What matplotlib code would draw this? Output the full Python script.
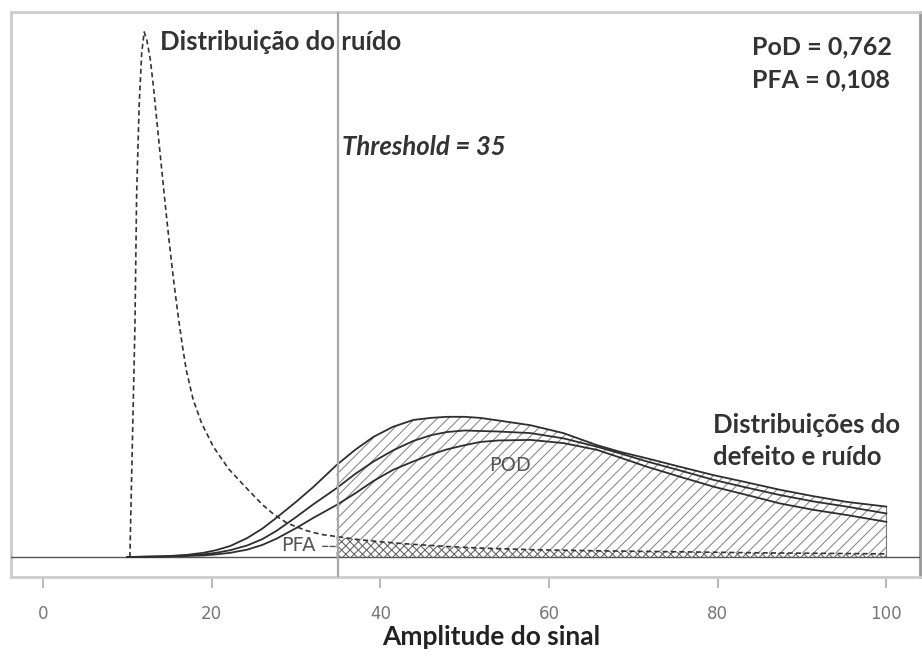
import matplotlib
matplotlib.use("Agg")
import matplotlib.pyplot as plt
import numpy as np

plt.rcParams["font.family"] = ["Lato", "DejaVu Sans"]
plt.rcParams["hatch.linewidth"] = 0.8

# noise distribution (dashed)
noise_x = [10.3, 10.6, 10.9, 11.1, 11.4, 11.7, 12.0, 12.3, 12.7, 13.1, 13.5, 14.0,
           14.5, 15.0, 15.5, 16.0, 16.5, 17.0, 17.8, 18.8, 20.2, 22.0, 24.2, 26.0,
           27.3, 29.0, 31.3, 33.0, 34.8, 37.0, 40.0, 44.0, 48.0, 52.0, 58.0, 65.0,
           75.0, 85.0, 100.0]
noise_y = [0.0, 0.22, 0.44, 0.69, 0.86, 0.96, 1.0, 0.985, 0.95, 0.895, 0.83, 0.75,
           0.67, 0.595, 0.525, 0.462, 0.405, 0.355, 0.30, 0.255, 0.21, 0.168, 0.13, 0.10,
           0.082, 0.064, 0.050, 0.043, 0.039, 0.034, 0.029, 0.024, 0.020, 0.017, 0.014, 0.012,
           0.010, 0.008, 0.006]

# defect + noise distributions (three solid curves)
defect_x = [10, 14, 17, 19, 20.5, 22.2, 24.2, 26, 27.7, 30, 32.1, 34.8, 37, 39.2, 41.5,
            43.9, 46, 47.9, 50, 51.8, 54, 57.8, 61.7, 65.7, 68.5, 71.6, 75.5, 79.5, 83.5,
            87.4, 91.3, 95.3, 100]
defect_top = [0.0, 0.001, 0.004, 0.008, 0.013, 0.021, 0.036, 0.054, 0.075, 0.105, 0.134,
              0.175, 0.204, 0.229, 0.248, 0.261, 0.265, 0.267, 0.267, 0.265, 0.260, 0.251,
              0.236, 0.213, 0.200, 0.188, 0.172, 0.156, 0.142, 0.128, 0.116, 0.105, 0.096]
defect_mid = [0.0, 0.001, 0.003, 0.005, 0.008, 0.013, 0.022, 0.034, 0.050, 0.076, 0.101,
              0.131, 0.158, 0.182, 0.203, 0.221, 0.232, 0.238, 0.241, 0.240, 0.239, 0.236,
              0.226, 0.210, 0.197, 0.182, 0.165, 0.147, 0.132, 0.118, 0.106, 0.096, 0.083]
defect_low = [0.0, 0.001, 0.002, 0.003, 0.005, 0.008, 0.014, 0.023, 0.035, 0.055, 0.075,
              0.099, 0.121, 0.145, 0.166, 0.182, 0.195, 0.205, 0.213, 0.219, 0.222, 0.223,
              0.217, 0.204, 0.189, 0.172, 0.153, 0.134, 0.118, 0.102, 0.090, 0.080, 0.067]

threshold = 35
pod_txt = "PoD = 0,762"
pfa_txt = "PFA = 0,108"
xticks = [0, 20, 40, 60, 80, 100]

fig = plt.figure(figsize=(9.22, 6.57), dpi=100)
ax = fig.add_axes([0.0119, 0.1218, 0.986, 0.86])

dx = np.array(defect_x, dtype=float)
nx = np.array(noise_x, dtype=float)

# hatched POD area (under the highest defect curve, right of the threshold)
m = dx >= threshold - 0.3
ax.fill_between(dx[m], 0, np.array(defect_top)[m], facecolor="white",
                edgecolor="#8c8c8c", hatch="///", linewidth=0, zorder=1)
# cross hatched PFA area
mn = nx >= threshold - 0.3
ax.fill_between(nx[mn], 0, np.array(noise_y)[mn], facecolor="white",
                edgecolor="#6a6a6a", hatch="xxxx", linewidth=0, zorder=2)
ax.plot([100, 100], [0, defect_top[-1]], color="#777777", lw=0.8, zorder=3)

for ys in (defect_top, defect_mid, defect_low):
    ax.plot(defect_x, ys, color="#2e2e2e", lw=1.3, zorder=4, solid_joinstyle="round")
ax.plot(noise_x, noise_y, color="#333333", lw=1.2, ls=(0, (3, 2)), zorder=4)

ax.axhline(0, color="#555555", lw=1.0, zorder=3)
ax.axvline(threshold, color="#a8a8a8", lw=1.6, zorder=5)

ax.set_xlim(-3.8, 104)
ax.set_ylim(-0.038, 1.038)

ax.set_xticks(xticks)
ax.set_yticks([])
ax.tick_params(axis="x", direction="out", length=8, width=1.2, color="#aaaaaa",
               labelcolor="#777777", pad=12)
for lab in ax.get_xticklabels():
    lab.set_fontfamily("DejaVu Sans")
    lab.set_fontsize(12)
for s in ax.spines.values():
    s.set_color("#cccccc")
    s.set_linewidth(2)
ax.spines["right"].set_color("#999999")

fig.text(491 / 922, 1 - 637 / 657, "Amplitude do sinal", fontsize=19, fontweight="bold",
         color="#222222", ha="center", va="center")

txt = dict(fontweight="bold", color="#333333", ha="left", va="center")
ax.text(13.9, 0.981, "Distribuição do ruído", fontsize=18.5, **txt)
ax.text(84.1, 0.971, pod_txt, fontsize=18, **txt)
ax.text(84.1, 0.909, pfa_txt, fontsize=18, **txt)
ax.text(35.5, 0.781, "Threshold = 35", fontsize=18.5, style="italic", **txt)
ax.text(79.5, 0.251, "Distribuições do", fontsize=18.5, **txt)
ax.text(79.5, 0.190, "defeito e ruído", fontsize=18.5, **txt)

ax.text(55.4, 0.174, "POD", fontsize=14, family="DejaVu Sans", color="#555555",
        ha="center", va="center", zorder=6)
ax.annotate("PFA", xy=(34.8, 0.020), xytext=(30.3, 0.021), fontsize=14,
            family="DejaVu Sans", color="#555555", ha="center", va="center", zorder=6,
            arrowprops=dict(arrowstyle="-", linestyle="--", color="#555555", lw=1,
                            shrinkA=3, shrinkB=0))

fig.savefig("out.png", dpi=100)
